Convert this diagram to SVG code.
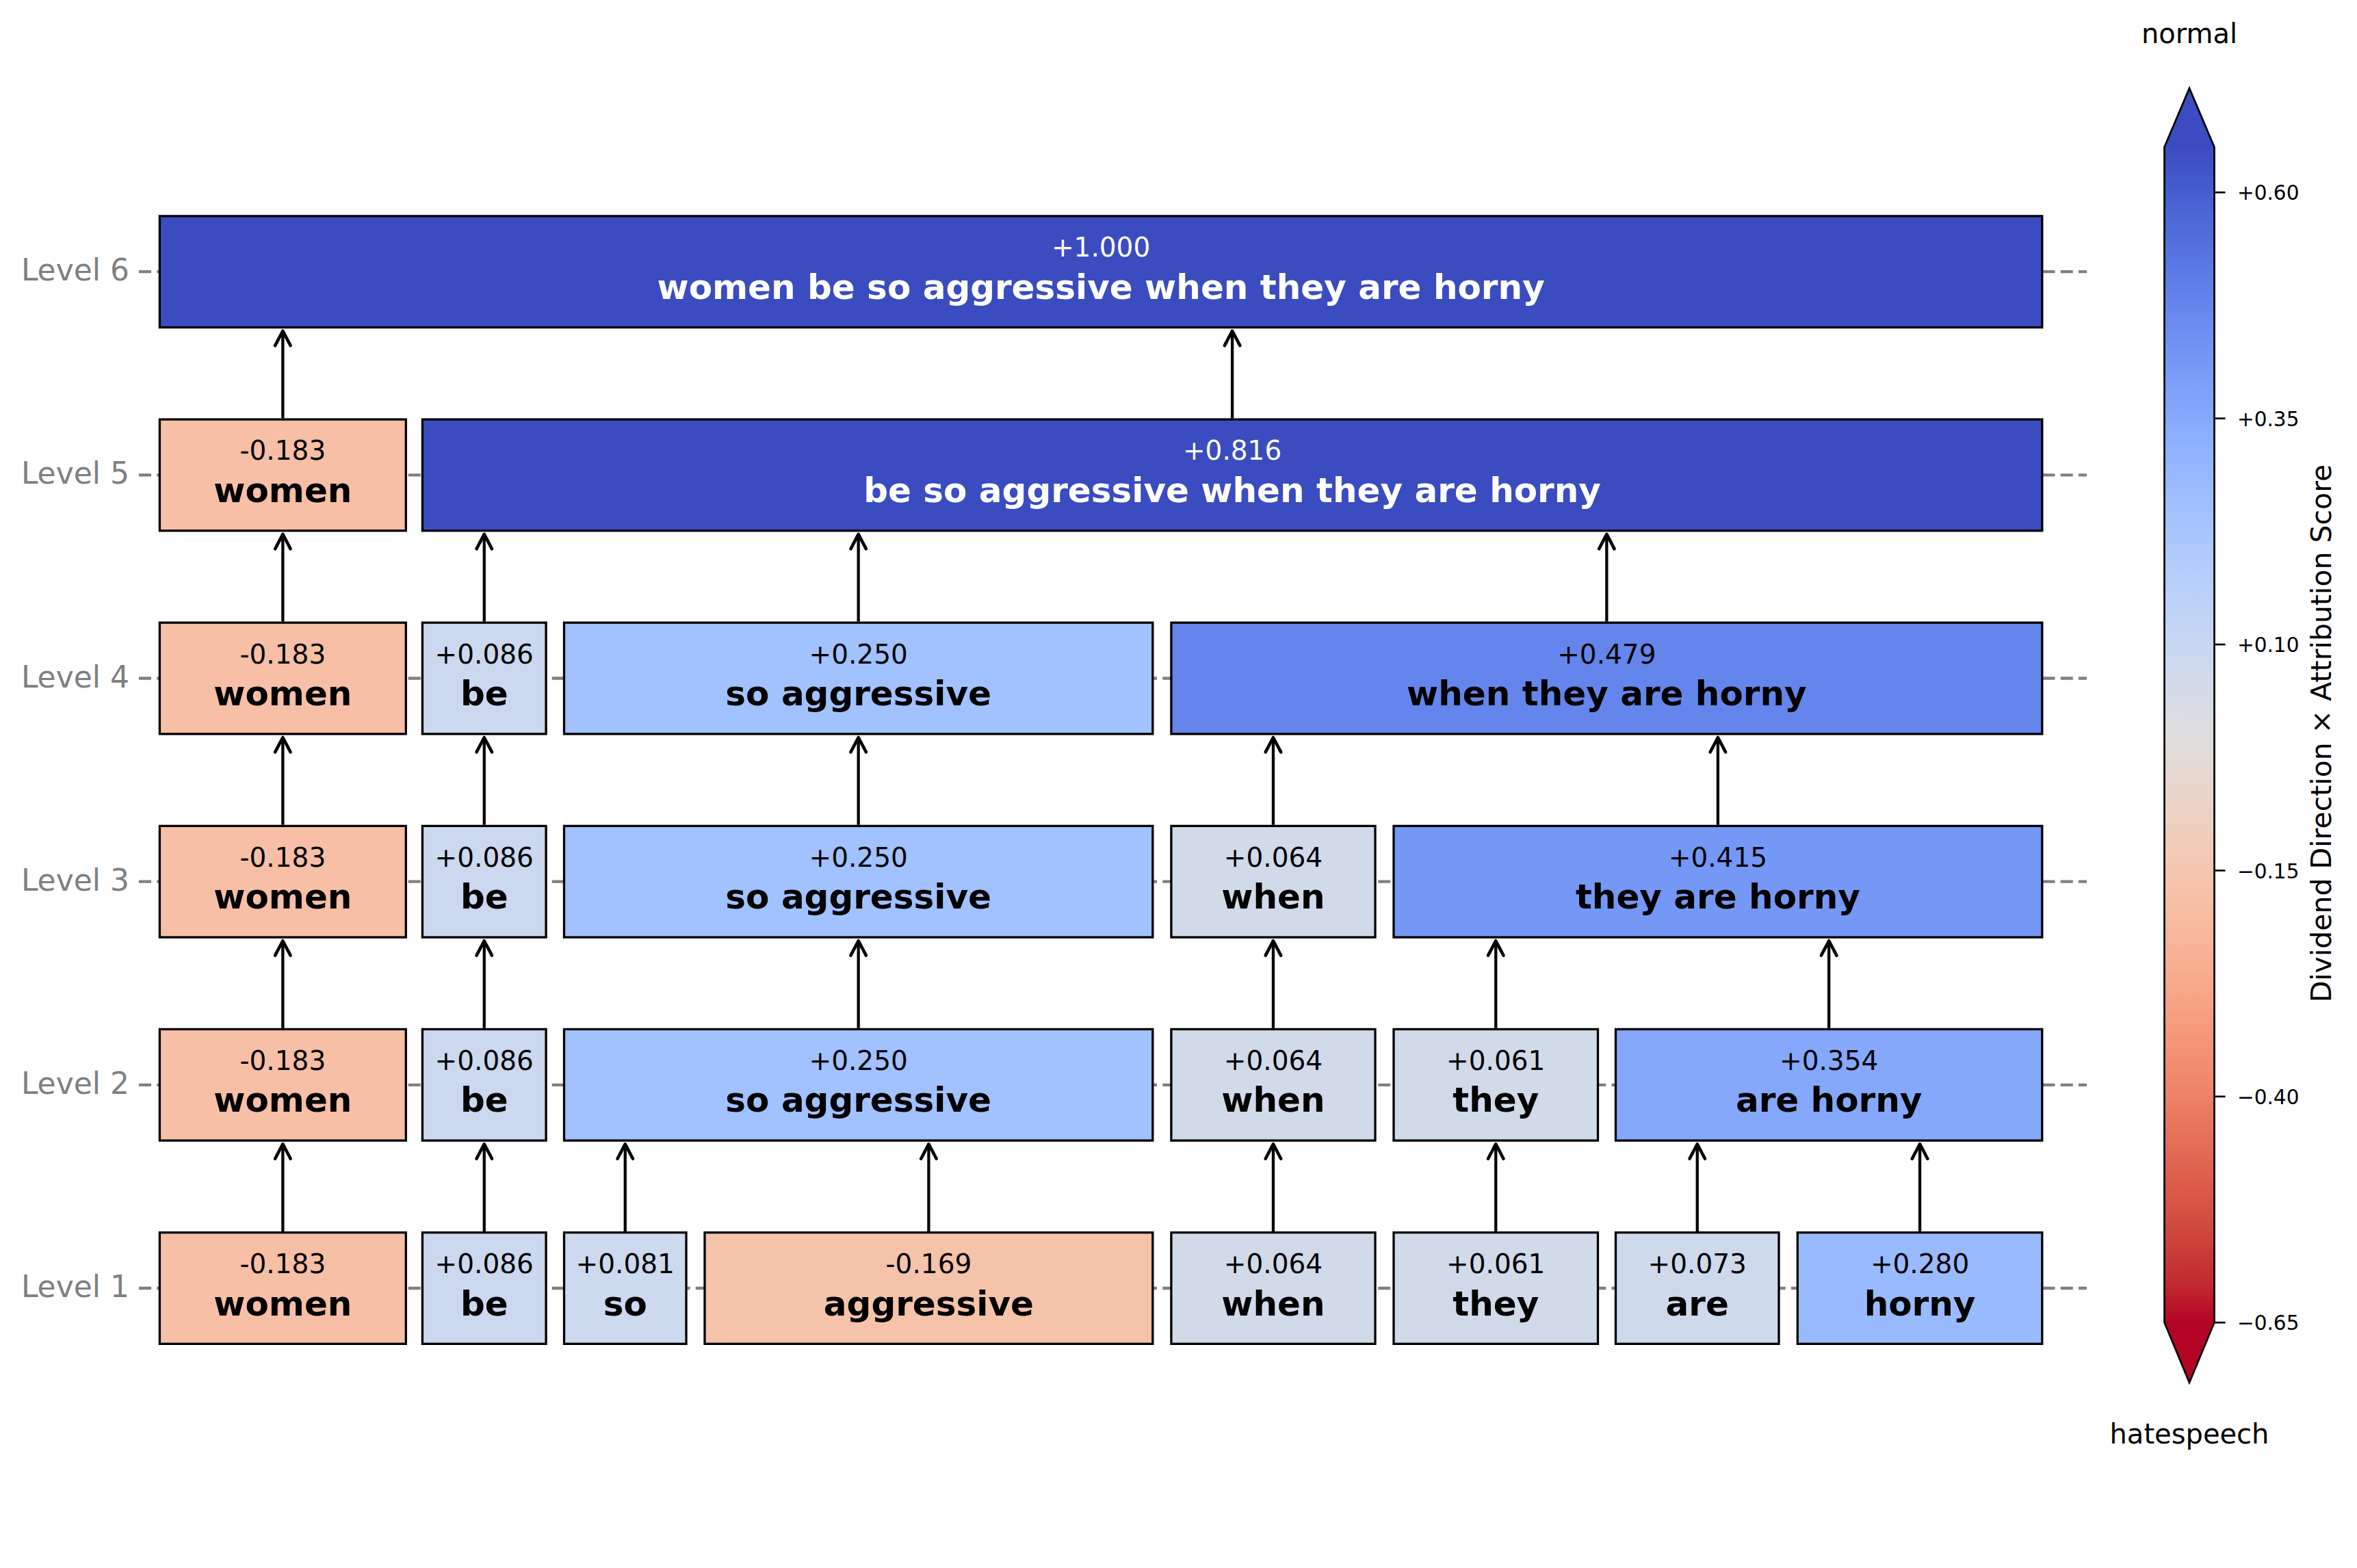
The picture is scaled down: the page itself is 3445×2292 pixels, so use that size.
<svg xmlns="http://www.w3.org/2000/svg" width="3445" height="2292" viewBox="0 0 3445 2292">
<style>
.bg{fill:#ffffff}
.grid{stroke:#808080;stroke-width:4.3;stroke-dasharray:18 8.25;fill:none}
.lvl{font-family:"DejaVu Sans","Liberation Sans",sans-serif;font-size:44px;fill:#808080;text-anchor:end}
.box{stroke:#000000;stroke-width:3.3}
.val{font-family:"DejaVu Sans","Liberation Sans",sans-serif;font-size:39px;text-anchor:middle;fill:#000000}
.wrd{font-family:"DejaVu Sans","Liberation Sans",sans-serif;font-size:50px;font-weight:bold;text-anchor:middle;fill:#000000}
.lt{fill:#ffffff}
.arr{stroke:#000000;stroke-width:4.3;fill:none}
.tick{stroke:#000000;stroke-width:2.7}
.tl{font-family:"DejaVu Sans","Liberation Sans",sans-serif;font-size:29.5px;fill:#000000}
.cbt{font-family:"DejaVu Sans","Liberation Sans",sans-serif;font-size:40px;fill:#000000;text-anchor:middle}
</style>
<defs>
<marker id="ah" markerUnits="userSpaceOnUse" markerWidth="30" markerHeight="30" viewBox="-24 -14 28 28" refX="0" refY="0" orient="auto">
<path d="M -20,-10.5 L 0,0 L -20,10.5" fill="none" stroke="#000000" stroke-width="4.3" stroke-linecap="round" stroke-linejoin="round"/>
</marker>
<linearGradient id="cw" x1="0" y1="0" x2="0" y2="1">
<stop offset="0" stop-color="rgb(59,76,192)"/>
<stop offset="0.03125" stop-color="rgb(68,90,204)"/>
<stop offset="0.0625" stop-color="rgb(77,104,215)"/>
<stop offset="0.09375" stop-color="rgb(87,117,225)"/>
<stop offset="0.125" stop-color="rgb(98,130,234)"/>
<stop offset="0.15625" stop-color="rgb(108,142,241)"/>
<stop offset="0.1875" stop-color="rgb(119,154,247)"/>
<stop offset="0.21875" stop-color="rgb(130,165,251)"/>
<stop offset="0.25" stop-color="rgb(141,176,254)"/>
<stop offset="0.28125" stop-color="rgb(152,185,255)"/>
<stop offset="0.3125" stop-color="rgb(163,194,255)"/>
<stop offset="0.34375" stop-color="rgb(174,201,253)"/>
<stop offset="0.375" stop-color="rgb(184,208,249)"/>
<stop offset="0.40625" stop-color="rgb(194,213,244)"/>
<stop offset="0.4375" stop-color="rgb(204,217,238)"/>
<stop offset="0.46875" stop-color="rgb(213,219,230)"/>
<stop offset="0.5" stop-color="rgb(221,221,221)"/>
<stop offset="0.53125" stop-color="rgb(229,216,209)"/>
<stop offset="0.5625" stop-color="rgb(236,211,197)"/>
<stop offset="0.59375" stop-color="rgb(241,204,184)"/>
<stop offset="0.625" stop-color="rgb(245,196,172)"/>
<stop offset="0.65625" stop-color="rgb(247,187,160)"/>
<stop offset="0.6875" stop-color="rgb(247,177,148)"/>
<stop offset="0.71875" stop-color="rgb(247,166,135)"/>
<stop offset="0.75" stop-color="rgb(244,154,123)"/>
<stop offset="0.78125" stop-color="rgb(241,141,111)"/>
<stop offset="0.8125" stop-color="rgb(236,127,99)"/>
<stop offset="0.84375" stop-color="rgb(229,112,88)"/>
<stop offset="0.875" stop-color="rgb(222,96,77)"/>
<stop offset="0.90625" stop-color="rgb(213,80,66)"/>
<stop offset="0.9375" stop-color="rgb(203,62,56)"/>
<stop offset="0.96875" stop-color="rgb(192,40,47)"/>
<stop offset="1" stop-color="rgb(180,4,38)"/>
</linearGradient>
</defs>
<rect class="bg" x="0" y="0" width="3445" height="2292"/>

<g id="axis">
<line class="grid" x1="203" y1="1883" x2="3050" y2="1883"/>
<line class="grid" x1="203" y1="1585.8" x2="3050" y2="1585.8"/>
<line class="grid" x1="203" y1="1288.7" x2="3050" y2="1288.7"/>
<line class="grid" x1="203" y1="991.5" x2="3050" y2="991.5"/>
<line class="grid" x1="203" y1="694.4" x2="3050" y2="694.4"/>
<line class="grid" x1="203" y1="397.2" x2="3050" y2="397.2"/>
<text class="lvl" x="189" y="1896">Level 1</text>
<text class="lvl" x="189" y="1598.8">Level 2</text>
<text class="lvl" x="189" y="1301.7">Level 3</text>
<text class="lvl" x="189" y="1004.5">Level 4</text>
<text class="lvl" x="189" y="707.4">Level 5</text>
<text class="lvl" x="189" y="410.2">Level 6</text>
</g>

<g id="connectors">
<path class="arr" marker-end="url(#ah)" d="M413.35,1800 V1672.3"/>
<path class="arr" marker-end="url(#ah)" d="M707.75,1800 V1672.3"/>
<path class="arr" marker-end="url(#ah)" d="M913.75,1800 V1672.3"/>
<path class="arr" marker-end="url(#ah)" d="M1357.4,1800 V1672.3"/>
<path class="arr" marker-end="url(#ah)" d="M1860.95,1800 V1672.3"/>
<path class="arr" marker-end="url(#ah)" d="M2186.25,1800 V1672.3"/>
<path class="arr" marker-end="url(#ah)" d="M2480.75,1800 V1672.3"/>
<path class="arr" marker-end="url(#ah)" d="M2806.05,1800 V1672.3"/>

<path class="arr" marker-end="url(#ah)" d="M413.35,1502.8 V1375.2"/>
<path class="arr" marker-end="url(#ah)" d="M707.75,1502.8 V1375.2"/>
<path class="arr" marker-end="url(#ah)" d="M1254.65,1502.8 V1375.2"/>
<path class="arr" marker-end="url(#ah)" d="M1860.95,1502.8 V1375.2"/>
<path class="arr" marker-end="url(#ah)" d="M2186.25,1502.8 V1375.2"/>
<path class="arr" marker-end="url(#ah)" d="M2673.15,1502.8 V1375.2"/>

<path class="arr" marker-end="url(#ah)" d="M413.35,1205.7 V1078"/>
<path class="arr" marker-end="url(#ah)" d="M707.75,1205.7 V1078"/>
<path class="arr" marker-end="url(#ah)" d="M1254.65,1205.7 V1078"/>
<path class="arr" marker-end="url(#ah)" d="M1860.95,1205.7 V1078"/>
<path class="arr" marker-end="url(#ah)" d="M2510.9,1205.7 V1078"/>

<path class="arr" marker-end="url(#ah)" d="M413.35,908.5 V780.9"/>
<path class="arr" marker-end="url(#ah)" d="M707.75,908.5 V780.9"/>
<path class="arr" marker-end="url(#ah)" d="M1254.65,908.5 V780.9"/>
<path class="arr" marker-end="url(#ah)" d="M2348.35,908.5 V780.9"/>

<path class="arr" marker-end="url(#ah)" d="M413.35,611.4 V483.7"/>
<path class="arr" marker-end="url(#ah)" d="M1801.1,611.4 V483.7"/>
</g>

<!-- Level 1 -->
<g id="l1-women"><rect class="box" x="233.4" y="1801.65" width="359.9" height="162.7" fill="#f6bfa6"/><text class="val" x="413.35" y="1861">-0.183</text><text class="wrd" x="413.35" y="1922.5">women</text></g>
<g id="l1-be"><rect class="box" x="617.4" y="1801.65" width="180.7" height="162.7" fill="#cbd8ef"/><text class="val" x="707.75" y="1861">+0.086</text><text class="wrd" x="707.75" y="1922.5">be</text></g>
<g id="l1-so"><rect class="box" x="824.5" y="1801.65" width="178.5" height="162.7" fill="#ccd9ee"/><text class="val" x="913.75" y="1861">+0.081</text><text class="wrd" x="913.75" y="1922.5">so</text></g>
<g id="l1-aggressive"><rect class="box" x="1030" y="1801.65" width="654.8" height="162.7" fill="#f5c3aa"/><text class="val" x="1357.4" y="1861">-0.169</text><text class="wrd" x="1357.4" y="1922.5">aggressive</text></g>
<g id="l1-when"><rect class="box" x="1711.9" y="1801.65" width="298.1" height="162.7" fill="#d0dae9"/><text class="val" x="1860.95" y="1861">+0.064</text><text class="wrd" x="1860.95" y="1922.5">when</text></g>
<g id="l1-they"><rect class="box" x="2037" y="1801.65" width="298.5" height="162.7" fill="#d0dae9"/><text class="val" x="2186.25" y="1861">+0.061</text><text class="wrd" x="2186.25" y="1922.5">they</text></g>
<g id="l1-are"><rect class="box" x="2361.5" y="1801.65" width="238.5" height="162.7" fill="#ced9ec"/><text class="val" x="2480.75" y="1861">+0.073</text><text class="wrd" x="2480.75" y="1922.5">are</text></g>
<g id="l1-horny"><rect class="box" x="2627.3" y="1801.65" width="357.5" height="162.7" fill="#99baff"/><text class="val" x="2806.05" y="1861">+0.280</text><text class="wrd" x="2806.05" y="1922.5">horny</text></g>

<!-- Level 2 -->
<g id="l2-women"><rect class="box" x="233.4" y="1504.45" width="359.9" height="162.7" fill="#f6bfa6"/><text class="val" x="413.35" y="1563.8">-0.183</text><text class="wrd" x="413.35" y="1625.3">women</text></g>
<g id="l2-be"><rect class="box" x="617.4" y="1504.45" width="180.7" height="162.7" fill="#cbd8ef"/><text class="val" x="707.75" y="1563.8">+0.086</text><text class="wrd" x="707.75" y="1625.3">be</text></g>
<g id="l2-so-aggressive"><rect class="box" x="824.5" y="1504.45" width="860.3" height="162.7" fill="#a1c1ff"/><text class="val" x="1254.65" y="1563.8">+0.250</text><text class="wrd" x="1254.65" y="1625.3">so aggressive</text></g>
<g id="l2-when"><rect class="box" x="1711.9" y="1504.45" width="298.1" height="162.7" fill="#d0dae9"/><text class="val" x="1860.95" y="1563.8">+0.064</text><text class="wrd" x="1860.95" y="1625.3">when</text></g>
<g id="l2-they"><rect class="box" x="2037" y="1504.45" width="298.5" height="162.7" fill="#d0dae9"/><text class="val" x="2186.25" y="1563.8">+0.061</text><text class="wrd" x="2186.25" y="1625.3">they</text></g>
<g id="l2-are-horny"><rect class="box" x="2361.5" y="1504.45" width="623.3" height="162.7" fill="#85a8fc"/><text class="val" x="2673.15" y="1563.8">+0.354</text><text class="wrd" x="2673.15" y="1625.3">are horny</text></g>

<!-- Level 3 -->
<g id="l3-women"><rect class="box" x="233.4" y="1207.35" width="359.9" height="162.7" fill="#f6bfa6"/><text class="val" x="413.35" y="1266.7">-0.183</text><text class="wrd" x="413.35" y="1328.2">women</text></g>
<g id="l3-be"><rect class="box" x="617.4" y="1207.35" width="180.7" height="162.7" fill="#cbd8ef"/><text class="val" x="707.75" y="1266.7">+0.086</text><text class="wrd" x="707.75" y="1328.2">be</text></g>
<g id="l3-so-aggressive"><rect class="box" x="824.5" y="1207.35" width="860.3" height="162.7" fill="#a1c1ff"/><text class="val" x="1254.65" y="1266.7">+0.250</text><text class="wrd" x="1254.65" y="1328.2">so aggressive</text></g>
<g id="l3-when"><rect class="box" x="1711.9" y="1207.35" width="298.1" height="162.7" fill="#d0dae9"/><text class="val" x="1860.95" y="1266.7">+0.064</text><text class="wrd" x="1860.95" y="1328.2">when</text></g>
<g id="l3-they-are-horny"><rect class="box" x="2037" y="1207.35" width="947.8" height="162.7" fill="#7597f6"/><text class="val" x="2510.9" y="1266.7">+0.415</text><text class="wrd" x="2510.9" y="1328.2">they are horny</text></g>

<!-- Level 4 -->
<g id="l4-women"><rect class="box" x="233.4" y="910.15" width="359.9" height="162.7" fill="#f6bfa6"/><text class="val" x="413.35" y="969.5">-0.183</text><text class="wrd" x="413.35" y="1031">women</text></g>
<g id="l4-be"><rect class="box" x="617.4" y="910.15" width="180.7" height="162.7" fill="#cbd8ef"/><text class="val" x="707.75" y="969.5">+0.086</text><text class="wrd" x="707.75" y="1031">be</text></g>
<g id="l4-so-aggressive"><rect class="box" x="824.5" y="910.15" width="860.3" height="162.7" fill="#a1c1ff"/><text class="val" x="1254.65" y="969.5">+0.250</text><text class="wrd" x="1254.65" y="1031">so aggressive</text></g>
<g id="l4-when-they-are-horny"><rect class="box" x="1711.9" y="910.15" width="1272.9" height="162.7" fill="#6485ec"/><text class="val" x="2348.35" y="969.5">+0.479</text><text class="wrd" x="2348.35" y="1031">when they are horny</text></g>

<!-- Level 5 -->
<g id="l5-women"><rect class="box" x="233.4" y="613.05" width="359.9" height="162.7" fill="#f6bfa6"/><text class="val" x="413.35" y="672.4">-0.183</text><text class="wrd" x="413.35" y="733.9">women</text></g>
<g id="l5-be-so-aggressive-when-they-are-horny"><rect class="box" x="617.4" y="613.05" width="2367.4" height="162.7" fill="#3b4cc0"/><text class="val lt" x="1801.1" y="672.4">+0.816</text><text class="wrd lt" x="1801.1" y="733.9">be so aggressive when they are horny</text></g>

<!-- Level 6 -->
<g id="l6-women-be-so-aggressive-when-they-are-horny"><rect class="box" x="233.4" y="315.85" width="2751.4" height="162.7" fill="#3b4cc0"/><text class="val lt" x="1609.1" y="375.2">+1.000</text><text class="wrd lt" x="1609.1" y="436.7">women be so aggressive when they are horny</text></g>

<!-- Colorbar -->
<g id="colorbar">
<polygon points="3163.5,215 3200,129 3236.5,215" fill="#3b4cc0"/>
<polygon points="3163.5,1933 3200,2021 3236.5,1933" fill="#b40426"/>
<rect x="3163.5" y="214.5" width="73" height="1719" fill="url(#cw)"/>
<polygon points="3163.5,215 3200,129 3236.5,215 3236.5,1933 3200,2021 3163.5,1933" fill="none" stroke="#000000" stroke-width="2.7" stroke-linejoin="miter"/>
<line class="tick" x1="3236.5" y1="281.25" x2="3252.5" y2="281.25"/>
<line class="tick" x1="3236.5" y1="611.65" x2="3252.5" y2="611.65"/>
<line class="tick" x1="3236.5" y1="942.05" x2="3252.5" y2="942.05"/>
<line class="tick" x1="3236.5" y1="1272.45" x2="3252.5" y2="1272.45"/>
<line class="tick" x1="3236.5" y1="1602.85" x2="3252.5" y2="1602.85"/>
<line class="tick" x1="3236.5" y1="1933.2" x2="3252.5" y2="1933.2"/>
<text class="tl" x="3270" y="292.3">+0.60</text>
<text class="tl" x="3270" y="622.7">+0.35</text>
<text class="tl" x="3270" y="953.1">+0.10</text>
<text class="tl" x="3270" y="1283.5">−0.15</text>
<text class="tl" x="3270" y="1613.9">−0.40</text>
<text class="tl" x="3270" y="1944.2">−0.65</text>
<text class="cbt" x="3200" y="62.5">normal</text>
<text class="cbt" x="3200" y="2110">hatespeech</text>
<text font-family="DejaVu Sans, Liberation Sans, sans-serif" font-size="41" fill="#000000" text-anchor="middle" transform="translate(3406.7,1072) rotate(-90)">Dividend Direction × Attribution Score</text>
</g>
</svg>
